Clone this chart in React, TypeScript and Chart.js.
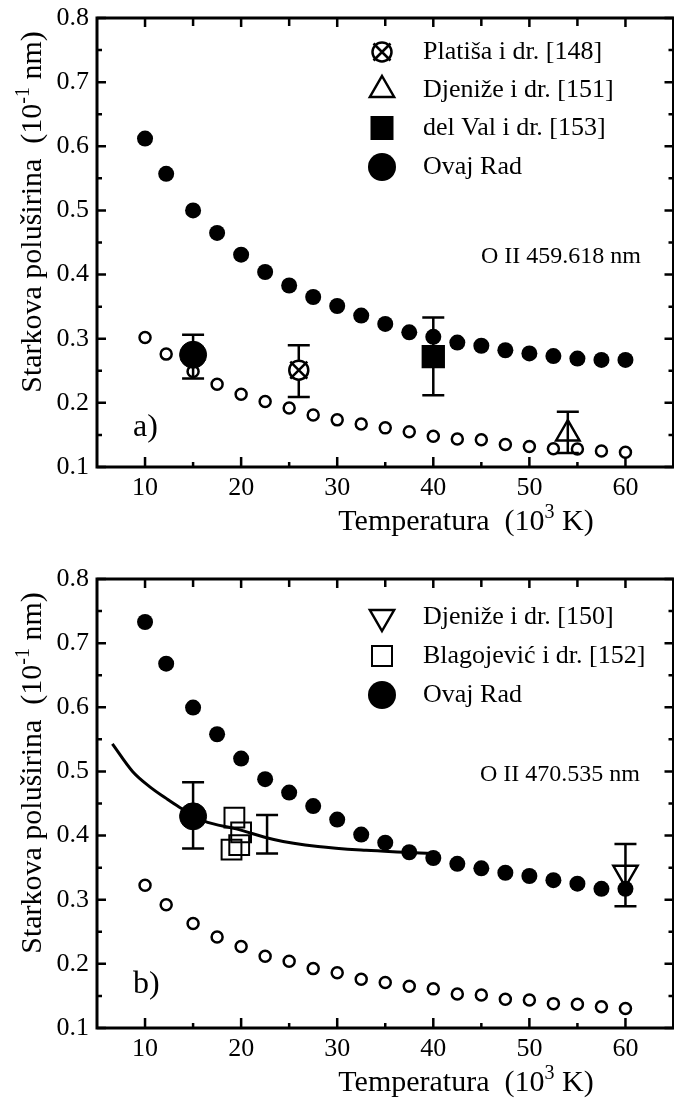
import React, { useEffect, useRef } from 'react';
import { Chart, registerables } from 'chart.js';

Chart.register(...registerables);

const SERIF = '"Liberation Serif", "Times New Roman", Times, serif';

// ---------- shared axes ----------
const TEMPERATURE = [10, 12.2, 15, 17.5, 20, 22.5, 25, 27.5, 30, 32.5, 35, 37.5, 40, 42.5, 45, 47.5, 50, 52.5, 55, 57.5, 60];
const X_TICKS = [10, 20, 30, 40, 50, 60];
const X_MINOR_TICKS = [15, 25, 35, 45, 55];
const Y_TICKS = [0.1, 0.2, 0.3, 0.4, 0.5, 0.6, 0.7, 0.8];
const Y_MINOR_TICKS = [0.15, 0.25, 0.35, 0.45, 0.55, 0.65, 0.75];

// ---------- panel a) O II 459.618 nm ----------
const A_FILLED = [0.612, 0.557, 0.5, 0.465, 0.431, 0.404, 0.383, 0.365, 0.351, 0.336, 0.323, 0.31, 0.303, 0.294, 0.289, 0.282, 0.277, 0.273, 0.269, 0.267, 0.267];
const A_OPEN = [0.302, 0.276, 0.249, 0.229, 0.2135, 0.202, 0.192, 0.181, 0.1735, 0.167, 0.161, 0.155, 0.148, 0.1435, 0.1425, 0.135, 0.132, 0.1285, 0.128, 0.125, 0.123];
const A_PLATISA_T = [26];
const A_PLATISA_W = [0.251];
const A_PLATISA_LO = [0.209];
const A_PLATISA_HI = [0.29];
const A_DJENIZE_T = [54];
const A_DJENIZE_W = [0.152];
const A_DJENIZE_LO = [0.122];
const A_DJENIZE_HI = [0.186];
const A_DELVAL_T = [40];
const A_DELVAL_W = [0.272];
const A_DELVAL_LO = [0.212];
const A_DELVAL_HI = [0.333];
const A_OVAJ_T = [15];
const A_OVAJ_W = [0.275];
const A_OVAJ_LO = [0.238];
const A_OVAJ_HI = [0.306];

// ---------- panel b) O II 470.535 nm ----------
const B_FILLED = [0.733, 0.668, 0.5995, 0.558, 0.52, 0.488, 0.467, 0.446, 0.425, 0.4016, 0.389, 0.374, 0.365, 0.356, 0.349, 0.342, 0.337, 0.3305, 0.325, 0.317, 0.317];
const B_OPEN = [0.3226, 0.292, 0.263, 0.242, 0.227, 0.212, 0.204, 0.1926, 0.186, 0.176, 0.171, 0.165, 0.161, 0.153, 0.1516, 0.1447, 0.1437, 0.138, 0.137, 0.133, 0.1305];
const B_CURVE_T = [6.6, 8.7, 10.5, 12.2, 13.5, 15, 16.1, 19.6, 23.4, 28, 33, 37.2, 40];
const B_CURVE_W = [0.543, 0.5, 0.476, 0.458, 0.445, 0.432, 0.423, 0.41, 0.394, 0.383, 0.377, 0.374, 0.372];
const B_DJENIZE_T = [60];
const B_DJENIZE_W = [0.342];
const B_DJENIZE_LO = [0.29];
const B_DJENIZE_HI = [0.387];
const B_BLAG_T = [19.3, 20.0, 19.0, 19.8];
const B_BLAG_W = [0.428, 0.405, 0.378, 0.385];
const B_BLAGBAR_T = [22.7];
const B_BLAGBAR_W = [0.4];
const B_BLAGBAR_LO = [0.372];
const B_BLAGBAR_HI = [0.432];
const B_OVAJ_T = [15];
const B_OVAJ_W = [0.43];
const B_OVAJ_LO = [0.38];
const B_OVAJ_HI = [0.483];

const pts = (xs: number[], ys: number[]) => xs.map((x, i) => ({ x, y: ys[i] }));

// ---------- drawing helpers ----------
function drawSymbol(ctx: CanvasRenderingContext2D, sym: string, x: number, y: number) {
  ctx.save();
  ctx.strokeStyle = '#000';
  ctx.fillStyle = '#000';
  ctx.lineWidth = 2.5;
  if (sym === 'circleX') {
    ctx.beginPath();
    ctx.arc(x, y, 9.5, 0, Math.PI * 2);
    ctx.stroke();
    const d = 8.5;
    ctx.beginPath();
    ctx.moveTo(x - d, y - d);
    ctx.lineTo(x + d, y + d);
    ctx.moveTo(x + d, y - d);
    ctx.lineTo(x - d, y + d);
    ctx.stroke();
  } else if (sym === 'triangle' || sym === 'triangleDown') {
    const r = 14;
    const s = sym === 'triangle' ? 1 : -1;
    ctx.beginPath();
    ctx.moveTo(x, y - s * r);
    ctx.lineTo(x + r * 0.866, y + s * r / 2);
    ctx.lineTo(x - r * 0.866, y + s * r / 2);
    ctx.closePath();
    ctx.stroke();
  } else if (sym === 'squareFilled') {
    ctx.fillRect(x - 11.5, y - 12, 23, 24);
  } else if (sym === 'squareOpen') {
    ctx.lineWidth = 2;
    ctx.strokeRect(x - 10, y - 10, 20, 20);
  } else if (sym === 'bigCircle') {
    ctx.beginPath();
    ctx.arc(x, y, 14, 0, Math.PI * 2);
    ctx.fill();
  }
  ctx.restore();
}

type Part = { t: string; sup?: boolean };
function drawRich(ctx: CanvasRenderingContext2D, parts: Part[], x: number, yMid: number, size: number, align: 'left' | 'center') {
  const supSize = Math.round(size * 0.66);
  let total = 0;
  const widths = parts.map((p) => {
    ctx.font = `${p.sup ? supSize : size}px ${SERIF}`;
    const w = ctx.measureText(p.t).width;
    total += w;
    return w;
  });
  let cx = align === 'center' ? x - total / 2 : x;
  const base = yMid + size * 0.33;
  ctx.textAlign = 'left';
  ctx.textBaseline = 'alphabetic';
  parts.forEach((p, i) => {
    ctx.font = `${p.sup ? supSize : size}px ${SERIF}`;
    ctx.fillText(p.t, cx, p.sup ? base - size * 0.4 : base);
    cx += widths[i];
  });
}

const errorBarPlugin = {
  id: 'errorBars',
  beforeDatasetsDraw(chart: any) {
    const { ctx } = chart;
    const xs = chart.scales.x;
    const ys = chart.scales.y;
    ctx.save();
    ctx.strokeStyle = '#000';
    ctx.lineWidth = 2.5;
    const cap = 11;
    chart.data.datasets.forEach((ds: any) => {
      if (!ds.errLo) return;
      ds.data.forEach((p: any, i: number) => {
        const px = xs.getPixelForValue(p.x);
        const y1 = ys.getPixelForValue(ds.errLo[i]);
        const y2 = ys.getPixelForValue(ds.errHi[i]);
        ctx.beginPath();
        ctx.moveTo(px, y1);
        ctx.lineTo(px, y2);
        ctx.moveTo(px - cap, y1);
        ctx.lineTo(px + cap, y1);
        ctx.moveTo(px - cap, y2);
        ctx.lineTo(px + cap, y2);
        ctx.stroke();
      });
    });
    ctx.restore();
  },
};

const framePlugin = {
  id: 'frame',
  afterDraw(chart: any) {
    const { ctx, chartArea: a } = chart;
    const xs = chart.scales.x;
    const ys = chart.scales.y;
    ctx.save();
    ctx.strokeStyle = '#000';
    ctx.lineWidth = 2.5;
    ctx.beginPath();
    X_TICKS.forEach((v) => {
      const px = xs.getPixelForValue(v);
      ctx.moveTo(px, a.bottom);
      ctx.lineTo(px, a.bottom - 10);
      ctx.moveTo(px, a.top);
      ctx.lineTo(px, a.top + 9);
    });
    X_MINOR_TICKS.forEach((v) => {
      const px = xs.getPixelForValue(v);
      ctx.moveTo(px, a.bottom);
      ctx.lineTo(px, a.bottom - 5);
      ctx.moveTo(px, a.top);
      ctx.lineTo(px, a.top + 8);
    });
    Y_TICKS.forEach((v) => {
      const py = ys.getPixelForValue(v);
      ctx.moveTo(a.left, py);
      ctx.lineTo(a.left + 9, py);
      ctx.moveTo(a.right, py);
      ctx.lineTo(a.right - 9, py);
    });
    Y_MINOR_TICKS.forEach((v) => {
      const py = ys.getPixelForValue(v);
      ctx.moveTo(a.left, py);
      ctx.lineTo(a.left + 5, py);
      ctx.moveTo(a.right, py);
      ctx.lineTo(a.right - 5, py);
    });
    ctx.stroke();
    ctx.lineWidth = 3;
    ctx.strokeRect(a.left, a.top, a.right - a.left, a.bottom - a.top);
    ctx.restore();
  },
};

const decorPlugin = {
  id: 'decor',
  afterDraw(chart: any, _args: any, opts: any) {
    const { ctx } = chart;
    ctx.save();
    ctx.fillStyle = '#000';
    // legend
    opts.legend.forEach((item: any, i: number) => {
      const y = opts.legendY[i];
      drawSymbol(ctx, item.sym, opts.legendX, y);
      ctx.font = `26px ${SERIF}`;
      ctx.textAlign = 'left';
      ctx.textBaseline = 'middle';
      ctx.fillText(item.text, opts.legendTextX, y);
    });
    // line label
    ctx.font = `24px ${SERIF}`;
    ctx.textAlign = 'left';
    ctx.textBaseline = 'middle';
    ctx.fillText(opts.note, opts.noteX, opts.noteY);
    // panel tag
    ctx.font = `32px ${SERIF}`;
    ctx.fillText(opts.tag, opts.tagX, opts.tagY);
    // x title
    drawRich(ctx, [{ t: 'Temperatura  (10' }, { t: '3', sup: true }, { t: ' K)' }], opts.xTitleX, opts.xTitleY, 30, 'center');
    // y title
    ctx.translate(opts.yTitleX, opts.yTitleY);
    ctx.rotate(-Math.PI / 2);
    drawRich(ctx, [{ t: 'Starkova poluširina  (10' }, { t: '-1', sup: true }, { t: ' nm)' }], 0, 0, 30, 'center');
    ctx.restore();
  },
};

const PLOT_BOTTOM = 467;

function buildConfig(datasets: any[], decor: any, canvasHeight: number) {
  return {
    type: 'scatter',
    data: { datasets },
    plugins: [errorBarPlugin, framePlugin, decorPlugin],
    options: {
      responsive: false,
      animation: false,
      events: [],
      layout: { padding: { top: 18, right: 10, bottom: 0, left: 0 } },
      plugins: {
        legend: { display: false },
        tooltip: { enabled: false },
        title: { display: false },
        decor,
      },
      scales: {
        x: {
          type: 'linear',
          min: 5,
          max: 65,
          grid: { display: false, drawTicks: false },
          border: { display: false },
          afterBuildTicks: (s: any) => {
            s.ticks = X_TICKS.map((v) => ({ value: v }));
          },
          afterFit: (s: any) => {
            s.height = canvasHeight - PLOT_BOTTOM;
            s.paddingLeft = 0;
            s.paddingRight = 0;
          },
          ticks: {
            padding: 6,
            color: '#000',
            maxRotation: 0,
            font: { family: SERIF, size: 26 },
            callback: (v: any) => String(v),
          },
        },
        y: {
          type: 'linear',
          min: 0.1,
          max: 0.8,
          grid: { display: false, drawTicks: false },
          border: { display: false },
          afterBuildTicks: (s: any) => {
            s.ticks = Y_TICKS.map((v) => ({ value: v }));
          },
          afterFit: (s: any) => {
            s.width = 97;
            s.paddingTop = 0;
            s.paddingBottom = 0;
          },
          ticks: {
            padding: 8,
            color: '#000',
            font: { family: SERIF, size: 26 },
            callback: (v: any) => Number(v).toFixed(1),
          },
        },
      },
    },
  };
}

const openCircles = (data: any[]) => ({
  data,
  pointStyle: 'circle',
  pointRadius: 5.5,
  pointBorderWidth: 2.5,
  pointBorderColor: '#000',
  pointBackgroundColor: 'rgba(0,0,0,0)',
});
const filledCircles = (data: any[]) => ({
  data,
  pointStyle: 'circle',
  pointRadius: 8,
  pointBorderWidth: 0,
  pointBackgroundColor: '#000',
  pointBorderColor: '#000',
});
const bigCircle = (data: any[], lo: number[], hi: number[]) => ({
  data,
  errLo: lo,
  errHi: hi,
  pointStyle: 'circle',
  pointRadius: 13.5,
  pointBorderWidth: 1,
  pointBackgroundColor: '#000',
  pointBorderColor: '#000',
});

function datasetsA() {
  return [
    bigCircle(pts(A_OVAJ_T, A_OVAJ_W), A_OVAJ_LO, A_OVAJ_HI),
    {
      data: pts(A_DELVAL_T, A_DELVAL_W),
      errLo: A_DELVAL_LO,
      errHi: A_DELVAL_HI,
      pointStyle: 'rect',
      pointRadius: 16.5,
      pointBorderWidth: 0,
      pointBackgroundColor: '#000',
      pointBorderColor: '#000',
    },
    {
      data: pts(A_DJENIZE_T, A_DJENIZE_W),
      errLo: A_DJENIZE_LO,
      errHi: A_DJENIZE_HI,
      pointStyle: 'triangle',
      pointRadius: 13.5,
      pointBorderWidth: 2.5,
      pointBorderColor: '#000',
      pointBackgroundColor: 'rgba(0,0,0,0)',
    },
    {
      data: pts(A_PLATISA_T, A_PLATISA_W),
      pointStyle: 'crossRot',
      pointRadius: 12,
      pointBorderWidth: 2.5,
      pointBorderColor: '#000',
    },
    {
      data: pts(A_PLATISA_T, A_PLATISA_W),
      errLo: A_PLATISA_LO,
      errHi: A_PLATISA_HI,
      pointStyle: 'circle',
      pointRadius: 9.5,
      pointBorderWidth: 2.5,
      pointBorderColor: '#000',
      pointBackgroundColor: '#fff',
    },
    filledCircles(pts(TEMPERATURE, A_FILLED)),
    openCircles(pts(TEMPERATURE, A_OPEN)),
  ];
}

function datasetsB() {
  return [
    bigCircle(pts(B_OVAJ_T, B_OVAJ_W), B_OVAJ_LO, B_OVAJ_HI),
    {
      data: pts(B_DJENIZE_T, B_DJENIZE_W),
      errLo: B_DJENIZE_LO,
      errHi: B_DJENIZE_HI,
      pointStyle: 'triangle',
      rotation: 180,
      pointRotation: 180,
      pointRadius: 14,
      pointBorderWidth: 2.5,
      pointBorderColor: '#000',
      pointBackgroundColor: 'rgba(0,0,0,0)',
    },
    {
      data: pts(B_BLAG_T, B_BLAG_W),
      pointStyle: 'rect',
      pointRadius: 14,
      pointBorderWidth: 2,
      pointBorderColor: '#000',
      pointBackgroundColor: 'rgba(0,0,0,0)',
    },
    {
      data: pts(B_BLAGBAR_T, B_BLAGBAR_W),
      errLo: B_BLAGBAR_LO,
      errHi: B_BLAGBAR_HI,
      pointRadius: 0,
    },
    {
      data: pts(B_CURVE_T, B_CURVE_W),
      showLine: true,
      borderColor: '#000',
      borderWidth: 3,
      pointRadius: 0,
      cubicInterpolationMode: 'monotone',
      fill: false,
    },
    filledCircles(pts(TEMPERATURE, B_FILLED)),
    openCircles(pts(TEMPERATURE, B_OPEN)),
  ];
}

const DECOR_A = {
  legend: [
    { sym: 'circleX', text: 'Platiša i dr. [148]' },
    { sym: 'triangle', text: 'Djeniže i dr. [151]' },
    { sym: 'squareFilled', text: 'del Val i dr. [153]' },
    { sym: 'bigCircle', text: 'Ovaj Rad' },
  ],
  legendX: 382,
  legendTextX: 423,
  legendY: [52, 90, 128, 167],
  note: 'O II 459.618 nm',
  noteX: 481,
  noteY: 257,
  tag: 'a)',
  tagX: 133,
  tagY: 428,
  xTitleX: 466,
  xTitleY: 520,
  yTitleX: 31,
  yTitleY: 212,
};

const DECOR_B = {
  legend: [
    { sym: 'triangleDown', text: 'Djeniže i dr. [150]' },
    { sym: 'squareOpen', text: 'Blagojević i dr. [152]' },
    { sym: 'bigCircle', text: 'Ovaj Rad' },
  ],
  legendX: 382,
  legendTextX: 423,
  legendY: [56, 95, 134],
  note: 'O II 470.535 nm',
  noteX: 480,
  noteY: 214,
  tag: 'b)',
  tagX: 133,
  tagY: 424,
  xTitleX: 466,
  xTitleY: 520,
  yTitleX: 31,
  yTitleY: 212,
};

function Panel({ which, height }: { which: 'a' | 'b'; height: number }) {
  const ref = useRef<HTMLCanvasElement | null>(null);
  useEffect(() => {
    if (!ref.current) return;
    const cfg: any = which === 'a'
      ? buildConfig(datasetsA(), DECOR_A, height)
      : buildConfig(datasetsB(), DECOR_B, height);
    const chart = new Chart(ref.current, cfg);
    return () => chart.destroy();
  }, [which, height]);
  return <canvas ref={ref} width={690} height={height} style={{ display: 'block', width: 690, height }} />;
}

export default function App() {
  return (
    <div style={{ position: 'absolute', left: 0, top: 0, width: 674, height: 1099, overflow: 'hidden', background: '#fff' }}>
      <Panel which="a" height={561} />
      <Panel which="b" height={538} />
    </div>
  );
}
